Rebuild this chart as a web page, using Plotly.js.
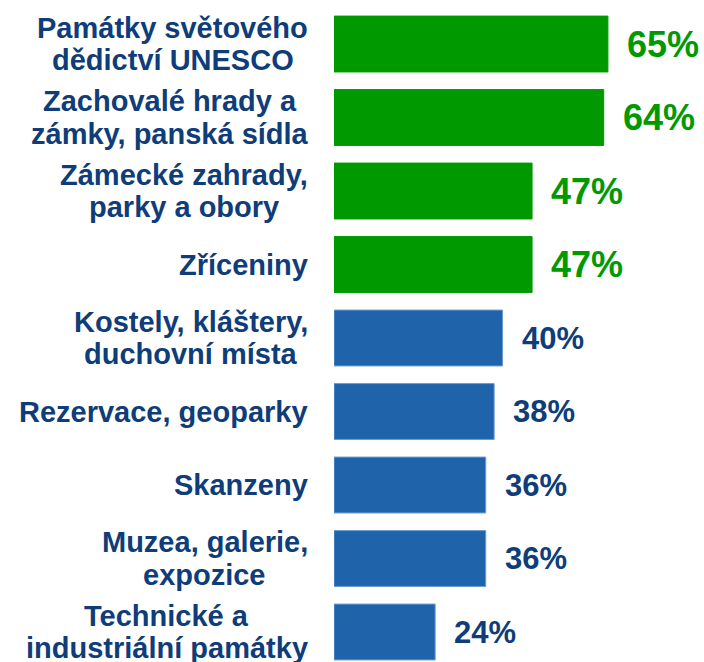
<!DOCTYPE html>
<html>
<head>
<meta charset="utf-8">
<script src="https://cdn.plot.ly/plotly-3.0.1.min.js"></script>
<style>
html,body{margin:0;padding:0;background:#fff;}
#chart{width:704px;height:662px;}
</style>
</head>
<body>
<div id="chart"></div>
<script>
const categories = [
  "Památky světového<br>dědictví UNESCO",
  "Zachovalé hrady a<br>zámky, panská sídla",
  "Zámecké zahrady,<br>parky a obory",
  "Zříceniny",
  "Kostely, kláštery,<br>duchovní místa",
  "Rezervace, geoparky",
  "Skanzeny",
  "Muzea, galerie,<br>expozice",
  "Technické a<br>industriální památky"
];
const values = [65, 64, 47, 47, 40, 38, 36, 36, 24];
const highlighted = [true, true, true, true, false, false, false, false, false];

const GREEN = "#009900";
const BLUE = "#1F64AB";
const NAVY = "#0E3D7A";
const FONT = "Liberation Sans";
const LABEL_SIZE = 29;
const LINE_GAP = 32.5;

const idx = categories.map((_, i) => i);

const canvas = document.createElement("canvas");
const ctx = canvas.getContext("2d");
ctx.font = "bold " + LABEL_SIZE + "px 'Liberation Sans'";

const trace = {
  type: "bar",
  orientation: "h",
  y: idx,
  x: values,
  width: 0.76,
  marker: {
    color: highlighted.map(h => h ? GREEN : BLUE),
    line: {color: highlighted.map(h => h ? GREEN : "#6A9AD0"), width: 1}
  },
  hoverinfo: "none"
};

const annotations = [];
categories.forEach((c, i) => {
  const lines = c.split("<br>");
  const maxW = Math.max(...lines.map(l => ctx.measureText(l).width));
  const n = lines.length;
  lines.forEach((line, k) => {
    annotations.push({
      x: 0, y: i, xref: "x", yref: "y",
      text: "<b>" + line + "</b>",
      showarrow: false, xanchor: "center", yanchor: "middle", align: "center",
      xshift: -(26 + maxW / 2),
      yshift: ((n - 1) / 2 - k) * LINE_GAP,
      borderpad: 0,
      font: {family: FONT, size: LABEL_SIZE, color: NAVY}
    });
  });
  annotations.push({
    x: values[i], y: i, xref: "x", yref: "y",
    text: "<b>" + values[i] + "%</b>",
    showarrow: false, xanchor: "left", yanchor: "middle",
    xshift: 17,
    font: {family: FONT, size: highlighted[i] ? 36 : 31, color: highlighted[i] ? GREEN : NAVY}
  });
});

const layout = {
  width: 704, height: 662,
  margin: {l: 334, r: 0, t: 0, b: 0, pad: 0},
  paper_bgcolor: "#ffffff",
  plot_bgcolor: "#ffffff",
  showlegend: false,
  xaxis: {range: [0, 87.8], visible: false, fixedrange: true},
  yaxis: {range: [8.408, -0.599], visible: false, fixedrange: true},
  annotations: annotations
};

Plotly.newPlot("chart", [trace], layout, {displayModeBar: false, staticPlot: true});
</script>
</body>
</html>
